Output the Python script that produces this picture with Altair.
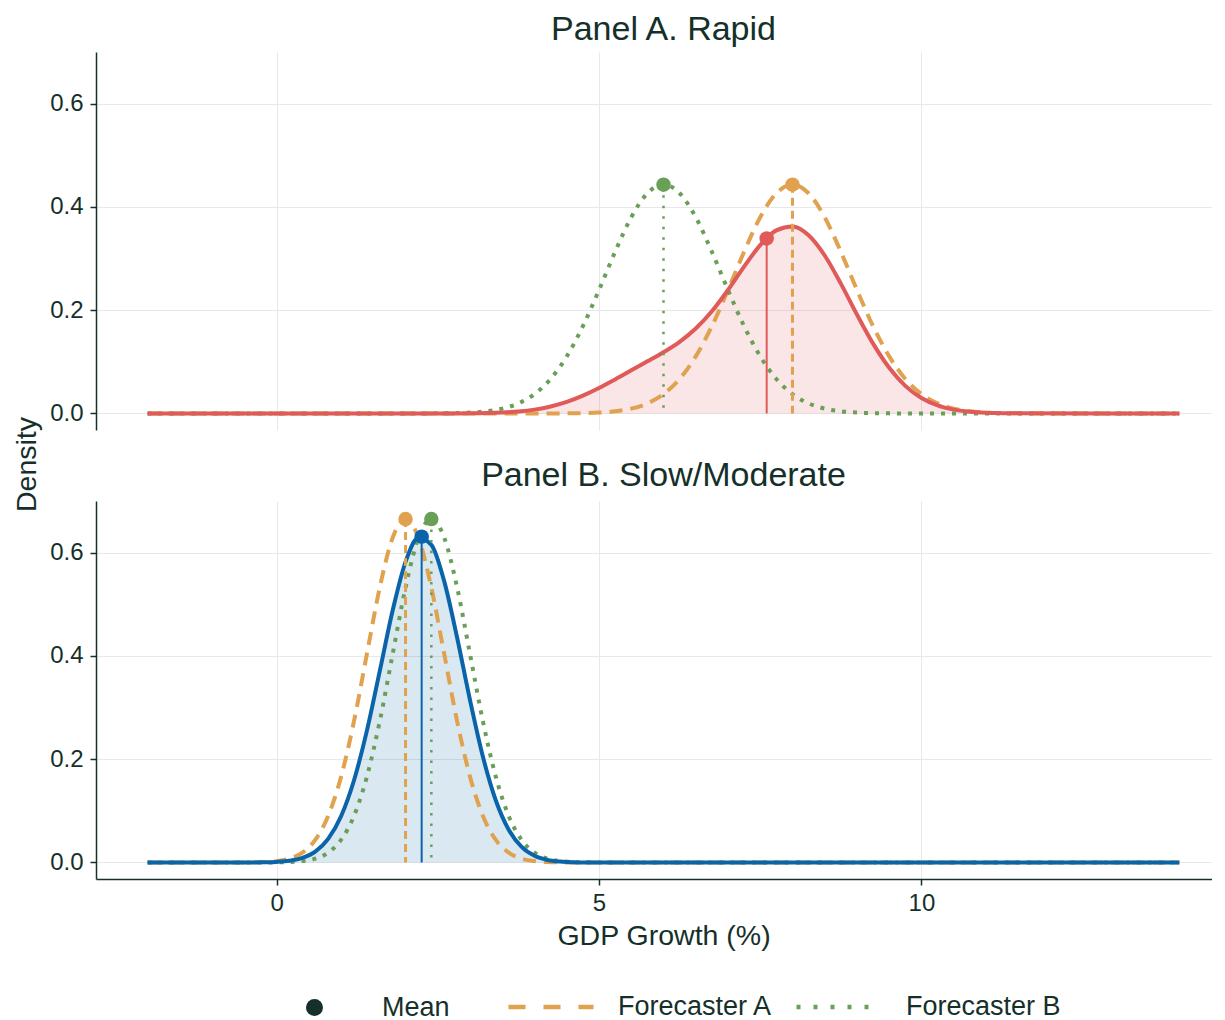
import altair as alt
import pandas as pd

# ---------------- data ----------------
X_RAPID = [-2.0, 2.5, 2.75, 3.0, 3.25, 3.5, 3.75, 4.0, 4.25, 4.5, 4.75, 5.0, 5.25,
           5.5, 5.75, 6.0, 6.25, 6.5, 6.75, 7.0, 7.25, 7.5, 7.75, 8.0, 8.25, 8.5,
           8.75, 9.0, 9.25, 9.5, 9.75, 10.0, 10.25, 10.5, 10.75, 11.0, 11.25, 11.5, 14.0]
RAPID_MIXTURE = [0, 0.0, 0.0001, 0.0003, 0.0008, 0.0019, 0.0039, 0.0075, 0.0135, 0.0223,
                 0.0344, 0.0492, 0.066, 0.0835, 0.1009, 0.1187, 0.1388, 0.1645, 0.1978,
                 0.2391, 0.2844, 0.3261, 0.3546, 0.3621, 0.3451, 0.3059, 0.2514, 0.1916,
                 0.1353, 0.0885, 0.0535, 0.03, 0.0156, 0.0075, 0.0034, 0.0014, 0.0006,
                 0.0002, 0]
RAPID_FORECASTER_A = [0, 0, 0, 0, 0, 0, 0, 0, 0.0001, 0.0002, 0.0007, 0.0017, 0.0042,
                      0.0094, 0.0195, 0.0375, 0.0669, 0.1106, 0.169, 0.2391, 0.3132, 0.38,
                      0.4265, 0.4433, 0.4265, 0.38, 0.3132, 0.2391, 0.169, 0.1106, 0.0669,
                      0.0375, 0.0195, 0.0094, 0.0042, 0.0017, 0.0007, 0.0002, 0]
RAPID_FORECASTER_B = [0, 0.0002, 0.0007, 0.0017, 0.0042, 0.0094, 0.0195, 0.0375, 0.0669,
                      0.1106, 0.169, 0.2391, 0.3132, 0.38, 0.4265, 0.4433, 0.4265, 0.38,
                      0.3132, 0.2391, 0.169, 0.1106, 0.0669, 0.0375, 0.0195, 0.0094, 0.0042,
                      0.0017, 0.0007, 0.0002, 0.0001, 0, 0, 0, 0, 0, 0, 0, 0]

X_SLOW = [-2.0, -0.4, -0.2, 0.0, 0.2, 0.4, 0.6, 0.8, 1.0, 1.2, 1.4, 1.6, 1.8, 2.0, 2.2,
          2.4, 2.6, 2.8, 3.0, 3.2, 3.4, 3.6, 3.8, 4.0, 4.2, 4.4, 4.6, 4.8, 14.0]
SLOW_MIXTURE = [0, 0.0001, 0.0003, 0.0011, 0.0033, 0.0088, 0.021, 0.0456, 0.0895, 0.1587,
                0.2549, 0.3705, 0.4879, 0.5821, 0.6289, 0.6152, 0.5443, 0.4352, 0.3142,
                0.2046, 0.12, 0.0634, 0.0301, 0.0129, 0.0049, 0.0017, 0.0005, 0.0001, 0]
SLOW_FORECASTER_A = [0, 0.0002, 0.0008, 0.0026, 0.0074, 0.019, 0.0437, 0.09, 0.1658, 0.2733,
                     0.4033, 0.5324, 0.6289, 0.6649, 0.6289, 0.5324, 0.4033, 0.2733, 0.1658,
                     0.09, 0.0437, 0.019, 0.0074, 0.0026, 0.0008, 0.0002, 0.0001, 0, 0]
SLOW_FORECASTER_B = [0, 0, 0.0001, 0.0002, 0.0008, 0.0026, 0.0074, 0.019, 0.0437, 0.09,
                     0.1658, 0.2733, 0.4033, 0.5324, 0.6289, 0.6649, 0.6289, 0.5324, 0.4033,
                     0.2733, 0.1658, 0.09, 0.0437, 0.019, 0.0074, 0.0026, 0.0008, 0.0002, 0]

MEAN_KINDS = ["Mixture", "Forecaster A", "Forecaster B"]
RAPID_MEAN_X = [7.6, 8.0, 6.0]
RAPID_MEAN_Y = [0.339, 0.443, 0.443]
SLOW_MEAN_X = [2.25, 2.0, 2.4]
SLOW_MEAN_Y = [0.631, 0.665, 0.665]

MEAN_LEGEND = ["Mean"]
FORECASTERS = ["Forecaster A", "Forecaster B"]
X_TICKS = [0, 5, 10]
Y_TICKS = [0.0, 0.2, 0.4, 0.6]
PANEL_TITLES = ["Panel A. Rapid", "Panel B. Slow/Moderate"]
X_TITLE = "GDP Growth (%)"
Y_TITLE = "Density"

# ---------------- styles ----------------
FONT = "Liberation Sans"
INK = "#15302A"
RED = "#E05A5A"
BLUE = "#0A64AA"
ORANGE = "#E0A24F"
GREEN = "#6A9F58"
PLOT_W = 1135
PLOT_H = 378
LEG_FONT = 27

x_scale = alt.Scale(domain=[-2.8, 14.8], nice=False, zero=False)
y_scale = alt.Scale(domain=[-0.032, 0.7], nice=False, zero=False)

CURVE_STYLE = {
    "Forecaster A": dict(color=ORANGE, strokeDash=[13, 8], strokeWidth=4),
    "Forecaster B": dict(color=GREEN, strokeDash=[4, 7], strokeWidth=4),
}
RULE_STYLE = {
    "Forecaster A": dict(color=ORANGE, strokeDash=[8, 5], strokeWidth=3),
    "Forecaster B": dict(color=GREEN, strokeDash=[2.5, 8], strokeWidth=2.5),
}


def build_panel(title, xs, mix, fa, fb, mean_x, mean_y, mix_color, bottom, title_offset):
    mix_df = pd.DataFrame({"x": xs, "y": mix})
    fc = {"Forecaster A": pd.DataFrame({"x": xs, "y": fa}),
          "Forecaster B": pd.DataFrame({"x": xs, "y": fb})}
    mean_df = pd.DataFrame({"x": mean_x, "y": mean_y, "kind": MEAN_KINDS})

    if bottom:
        x_axis = alt.Axis(values=X_TICKS, format="d", grid=True, labelPadding=6, titlePadding=6)
        x_title = X_TITLE
        y_axis = alt.Axis(values=Y_TICKS, format=".1f", grid=True)
        y_title = None
    else:
        x_axis = alt.Axis(values=X_TICKS, labels=False, ticks=False, domain=False, grid=True)
        x_title = None
        y_axis = alt.Axis(values=Y_TICKS, format=".1f", grid=True,
                          titleAngle=270, titleX=-61, titleY=412,
                          titleAlign="center", titleBaseline="alphabetic")
        y_title = Y_TITLE

    def X():
        return alt.X("x:Q", scale=x_scale, axis=x_axis, title=x_title)

    def Y():
        return alt.Y("y:Q", scale=y_scale, axis=y_axis, title=y_title)

    layers = [
        alt.Chart(mix_df).mark_area(color=mix_color, opacity=0.15, interpolate="monotone")
        .encode(x=X(), y=Y(), y2=alt.datum(0))
    ]
    for k, st in CURVE_STYLE.items():
        layers.append(
            alt.Chart(fc[k]).mark_line(interpolate="monotone", strokeCap="butt", **st)
            .encode(x=X(), y=Y())
        )
    layers.append(
        alt.Chart(mix_df).mark_line(color=mix_color, strokeWidth=4, interpolate="monotone")
        .encode(x=X(), y=Y())
    )
    layers.append(
        alt.Chart(mean_df[mean_df["kind"] == "Mixture"]).mark_rule(color=mix_color, strokeWidth=2)
        .encode(x=X(), y=Y(), y2=alt.datum(0))
    )
    for k, st in RULE_STYLE.items():
        layers.append(
            alt.Chart(mean_df[mean_df["kind"] == k]).mark_rule(**st)
            .encode(x=X(), y=Y(), y2=alt.datum(0))
        )
    for k, c in [("Mixture", mix_color), ("Forecaster A", ORANGE), ("Forecaster B", GREEN)]:
        layers.append(
            alt.Chart(mean_df[mean_df["kind"] == k]).mark_circle(color=c, size=210, opacity=1)
            .encode(x=X(), y=Y())
        )

    if not bottom:
        # legend-only layers (no rows; the legends come from the scale domains)
        mean_leg_df = pd.DataFrame({"x": pd.Series([], dtype=float),
                                    "y": pd.Series([], dtype=float),
                                    "kind": pd.Series([], dtype=str)})
        fc_leg_df = pd.DataFrame({"x": pd.Series([], dtype=float),
                                  "y": pd.Series([], dtype=float),
                                  "series": pd.Series([], dtype=str)})
        fc_legend = alt.Legend(
            title=None, orient="none", direction="horizontal",
            legendX=410, legendY=910, symbolType="stroke",
            symbolSize=7225, symbolStrokeWidth=4.5, labelOffset=22,
            labelFont=FONT, labelFontSize=LEG_FONT, labelColor=INK, labelLimit=400)
        layers.append(
            alt.Chart(mean_leg_df).mark_point(filled=True, color=INK, opacity=1)
            .encode(x=X(), y=Y(),
                    shape=alt.Shape("kind:N", scale=alt.Scale(domain=MEAN_LEGEND, range=["circle"]),
                                    legend=alt.Legend(
                                        title=None, orient="none", direction="horizontal",
                                        legendX=205, legendY=942, symbolSize=289,
                                        symbolFillColor=INK, symbolStrokeColor=INK,
                                        symbolStrokeWidth=0, labelOffset=54,
                                        labelFont=FONT, labelFontSize=LEG_FONT, labelColor=INK)))
        )
        layers.append(
            alt.Chart(fc_leg_df).mark_line(strokeWidth=4.5, strokeCap="butt")
            .encode(x=X(), y=Y(),
                    color=alt.Color("series:N", scale=alt.Scale(domain=FORECASTERS, range=[ORANGE, GREEN]),
                                    legend=fc_legend),
                    strokeDash=alt.StrokeDash("series:N",
                                              scale=alt.Scale(domain=FORECASTERS, range=[[17, 18], [4, 13]]),
                                              legend=fc_legend))
        )

    return alt.layer(*layers).properties(
        width=PLOT_W, height=PLOT_H,
        title=alt.TitleParams(title, fontSize=34, font=FONT, color=INK,
                              fontWeight="normal", anchor="middle", offset=title_offset),
    )


panel_a = build_panel(PANEL_TITLES[0], X_RAPID, RAPID_MIXTURE, RAPID_FORECASTER_A,
                      RAPID_FORECASTER_B, RAPID_MEAN_X, RAPID_MEAN_Y, RED, bottom=False,
                      title_offset=5)
panel_b = build_panel(PANEL_TITLES[1], X_SLOW, SLOW_MIXTURE, SLOW_FORECASTER_A,
                      SLOW_FORECASTER_B, SLOW_MEAN_X, SLOW_MEAN_Y, BLUE, bottom=True,
                      title_offset=8)

chart = alt.vconcat(panel_a, panel_b, spacing=71, bounds="flush").properties(
    padding={"left": 4, "top": 5, "right": -19, "bottom": 0}
).configure(font=FONT).configure_view(stroke=None).configure_axis(
    labelFont=FONT, labelFontSize=24, labelColor=INK, labelPadding=7,
    titleFont=FONT, titleFontSize=28.5, titleColor=INK, titleFontWeight="normal",
    domainColor=INK, domainWidth=1.5, tickColor=INK, tickWidth=1.5, tickSize=6,
    gridColor="#E8E8E8", gridWidth=1,
).configure_legend(columnPadding=14)

chart.save("out.html", embed_options={"renderer": "svg", "actions": False})
